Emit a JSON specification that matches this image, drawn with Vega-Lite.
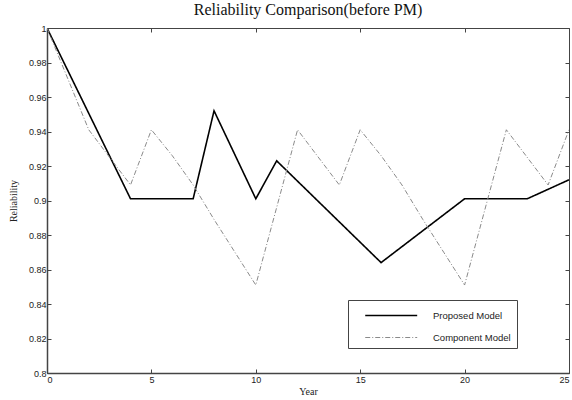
{
  "$schema": "https://vega.github.io/schema/vega-lite/v6.json",
  "width": 522,
  "height": 345,
  "autosize": "none",
  "padding": {"left": 47, "top": 28, "right": 3, "bottom": 27},
  "background": "white",
  "config": {
    "view": {"stroke": "#444", "strokeWidth": 1},
    "axis": {"grid": false, "domainColor": "#444", "tickColor": "#444", "labelFont": "Liberation Sans", "labelFontSize": 9, "labelColor": "#222", "titleFont": "Liberation Serif", "titleFontSize": 10, "titleFontWeight": "normal", "titleColor": "#222"}
  },
  "title": {"text": "Reliability Comparison(before PM)", "font": "Liberation Serif", "fontSize": 16, "fontWeight": "normal", "color": "#111", "offset": 6},
  "data": {"values": [
    {"year": 0, "r": 1, "model": "Proposed Model"},
    {"year": 4, "r": 0.901, "model": "Proposed Model"},
    {"year": 7, "r": 0.901, "model": "Proposed Model"},
    {"year": 8, "r": 0.952, "model": "Proposed Model"},
    {"year": 10, "r": 0.901, "model": "Proposed Model"},
    {"year": 11, "r": 0.923, "model": "Proposed Model"},
    {"year": 16, "r": 0.864, "model": "Proposed Model"},
    {"year": 20, "r": 0.901, "model": "Proposed Model"},
    {"year": 23, "r": 0.901, "model": "Proposed Model"},
    {"year": 25, "r": 0.912, "model": "Proposed Model"},
    {"year": 0, "r": 1, "model": "Component Model"},
    {"year": 2, "r": 0.941, "model": "Component Model"},
    {"year": 4, "r": 0.909, "model": "Component Model"},
    {"year": 5, "r": 0.941, "model": "Component Model"},
    {"year": 6, "r": 0.926, "model": "Component Model"},
    {"year": 7, "r": 0.909, "model": "Component Model"},
    {"year": 8, "r": 0.889, "model": "Component Model"},
    {"year": 9, "r": 0.870, "model": "Component Model"},
    {"year": 10, "r": 0.851, "model": "Component Model"},
    {"year": 12, "r": 0.941, "model": "Component Model"},
    {"year": 14, "r": 0.909, "model": "Component Model"},
    {"year": 15, "r": 0.941, "model": "Component Model"},
    {"year": 16, "r": 0.926, "model": "Component Model"},
    {"year": 17, "r": 0.909, "model": "Component Model"},
    {"year": 18, "r": 0.889, "model": "Component Model"},
    {"year": 19, "r": 0.870, "model": "Component Model"},
    {"year": 20, "r": 0.851, "model": "Component Model"},
    {"year": 22, "r": 0.941, "model": "Component Model"},
    {"year": 24, "r": 0.909, "model": "Component Model"},
    {"year": 25, "r": 0.941, "model": "Component Model"}
  ]},
  "layer": [
    {
      "mark": {"type": "line", "opacity": 0},
      "encoding": {
        "x": {"field": "year", "type": "quantitative", "scale": {"domain": [0, 25], "nice": false}, "axis": {"orient": "top", "values": [0, 5, 10, 15, 20, 25], "labels": false, "title": null, "tickSize": -4, "domain": false}},
        "y": {"field": "r", "type": "quantitative", "scale": {"domain": [0.8, 1], "nice": false, "zero": false}, "axis": {"orient": "right", "values": [0.8, 0.82, 0.84, 0.86, 0.88, 0.9, 0.92, 0.94, 0.96, 0.98, 1], "labels": false, "title": null, "tickSize": -4, "domain": false}},
        "detail": {"field": "model"}
      }
    },
    {
      "mark": {"type": "line", "clip": true},
      "encoding": {
        "x": {"field": "year", "type": "quantitative", "scale": {"domain": [0, 25], "nice": false}, "axis": {"orient": "bottom", "values": [0, 5, 10, 15, 20, 25], "format": "~g", "title": "Year", "tickSize": -4, "labelPadding": 6, "titlePadding": 2, "domainWidth": 1.5}},
        "y": {"field": "r", "type": "quantitative", "scale": {"domain": [0.8, 1], "nice": false, "zero": false}, "axis": {"orient": "left", "values": [0.8, 0.82, 0.84, 0.86, 0.88, 0.9, 0.92, 0.94, 0.96, 0.98, 1], "format": "~g", "title": "Reliability", "tickSize": -4, "labelPadding": 5, "titlePadding": 10, "domainWidth": 1.5}},
        "color": {"field": "model", "type": "nominal", "sort": ["Proposed Model", "Component Model"], "scale": {"domain": ["Proposed Model", "Component Model"], "range": ["#000000", "#8a8a8a"]},
          "legend": {"title": null, "orient": "none", "legendX": 301, "legendY": 272, "strokeColor": "#444", "fillColor": "white", "padding": 6, "symbolType": "M0.2,0H6.2", "symbolSize": 300, "symbolStrokeWidth": 1.5, "symbolFillColor": "transparent", "labelFont": "Liberation Sans", "labelFontSize": 9.5, "labelColor": "#222", "labelOffset": 60, "rowPadding": 8, "labelLimit": 300, "labelExpr": "datum.label + '\u00a0\u00a0\u00a0\u00a0\u00a0\u00a0\u00a0\u00a0\u00a0\u00a0\u00a0\u00a0\u00a0\u00a0'"}},
        "strokeDash": {"field": "model", "type": "nominal", "sort": ["Proposed Model", "Component Model"], "scale": {"domain": ["Proposed Model", "Component Model"], "range": [[1, 0], [5, 2, 1, 2]]}},
        "strokeWidth": {"field": "model", "type": "nominal", "scale": {"domain": ["Proposed Model", "Component Model"], "range": [1.6, 1]}, "legend": null}
      }
    }
  ],
  "resolve": {"axis": {"x": "independent", "y": "independent"}}
}
